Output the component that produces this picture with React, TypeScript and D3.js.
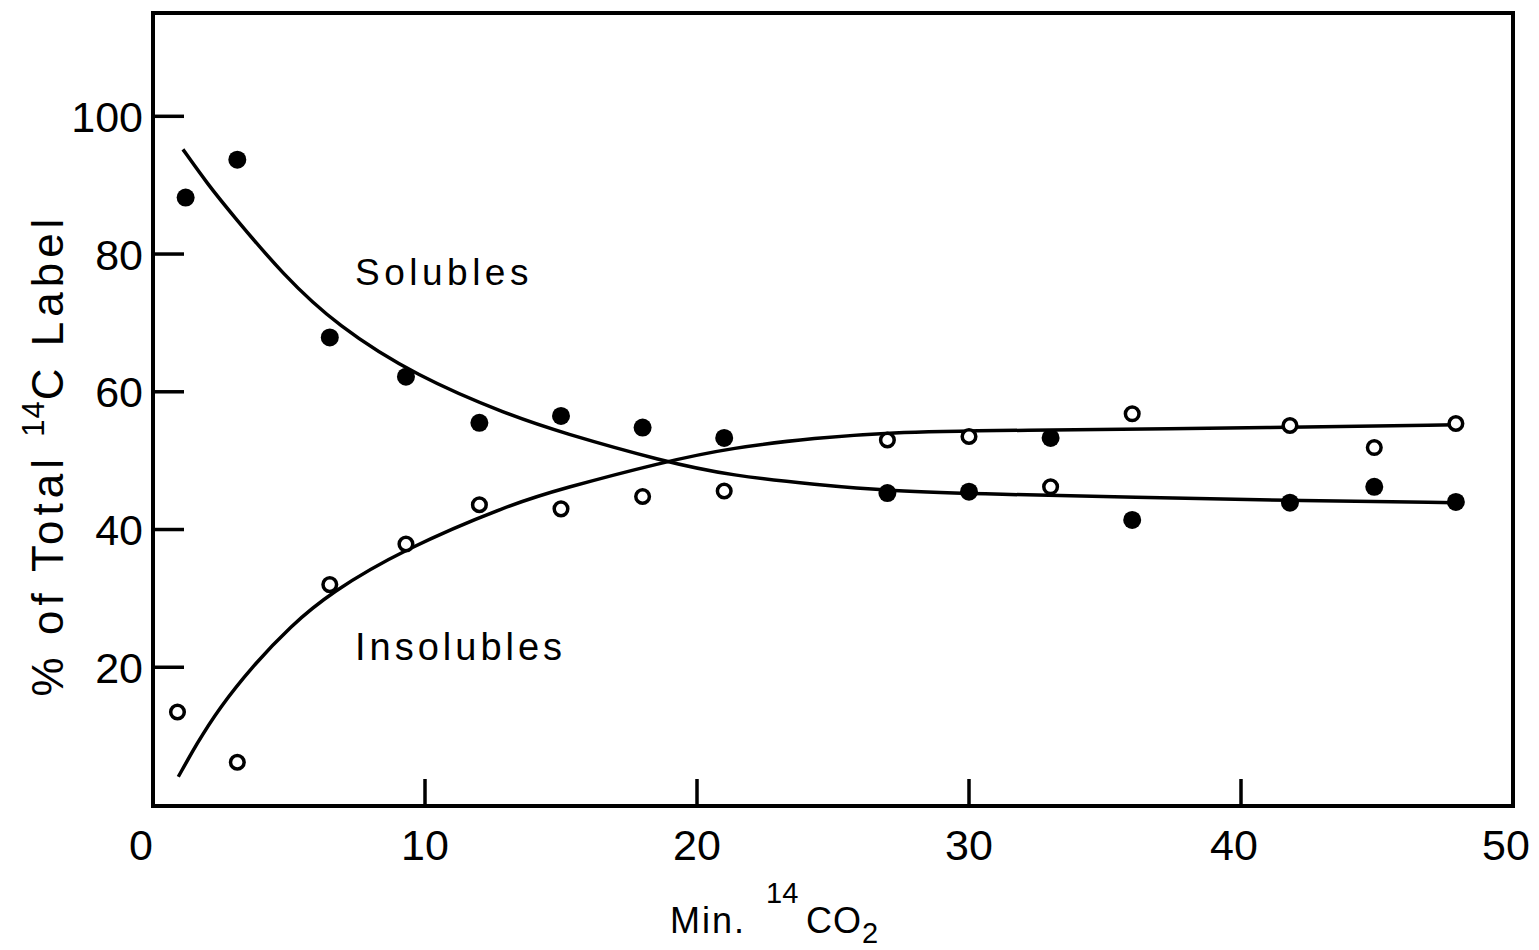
import React from "react";
import * as d3 from "d3";

// Measured points: [minutes, % of total 14C label]
const solublesX = [1.2, 3.1, 6.5, 9.3, 12.0, 15.0, 18.0, 21.0, 27.0, 30.0, 33.0, 36.0, 41.8, 44.9, 47.9];
const solublesY = [88.2, 93.7, 67.9, 62.2, 55.5, 56.5, 54.8, 53.3, 45.3, 45.5, 53.3, 41.4, 43.9, 46.2, 44.0];

const insolublesX = [0.9, 3.1, 6.5, 9.3, 12.0, 15.0, 18.0, 21.0, 27.0, 30.0, 33.0, 36.0, 41.8, 44.9, 47.9];
const insolublesY = [13.5, 6.2, 32.0, 37.9, 43.6, 43.0, 44.8, 45.6, 53.0, 53.5, 46.2, 56.8, 55.1, 51.9, 55.4];

// Hand-drawn fitted curves
const solublesCurveX = [1.1, 2.0, 2.94, 4.78, 6.76, 9.71, 13.1, 15.0, 18.75, 21.3, 24.4, 27.0, 31.1, 36.0, 41.7, 47.9];
const solublesCurveY = [95.2, 90.2, 85.6, 77.0, 69.6, 62.2, 56.6, 54.1, 49.9, 47.8, 46.5, 45.6, 45.1, 44.7, 44.2, 43.9];

const insolublesCurveX = [0.93, 1.61, 2.4, 3.69, 5.04, 6.51, 9.2, 13.1, 15.0, 18.75, 21.3, 24.4, 27.0, 31.1, 41.7, 47.9];
const insolublesCurveY = [4.1, 8.9, 13.9, 20.3, 25.9, 30.8, 37.1, 43.6, 45.9, 49.8, 51.9, 53.3, 54.1, 54.4, 54.8, 55.2];

const xTicks = [0, 10, 20, 30, 40, 50];
const yTicks = [20, 40, 60, 80, 100];

const FONT = "'Liberation Sans', Arial, sans-serif";

export default function App() {
  const W = 1539;
  const H = 950;
  const left = 153, right = 1513, top = 13, bottom = 806;
  const x = d3.scaleLinear().domain([0, 50]).range([left, right]);
  const y = d3.scaleLinear().domain([0, 115]).range([805, top]);

  const line = d3
    .line<[number, number]>()
    .x((d) => x(d[0]))
    .y((d) => y(d[1]))
    .curve(d3.curveBasis);

  const sCurve = solublesCurveX.map((v, i) => [v, solublesCurveY[i]] as [number, number]);
  const iCurve = insolublesCurveX.map((v, i) => [v, insolublesCurveY[i]] as [number, number]);

  return (
    <svg width={W} height={H} style={{ display: "block", position: "absolute", left: 0, top: 0, background: "#fff" }}>
      <rect x={0} y={0} width={W} height={H} fill="#fff" />
      {/* frame */}
      <rect
        x={left}
        y={top}
        width={right - left}
        height={bottom - top}
        fill="none"
        stroke="#000"
        strokeWidth={4}
      />
      {/* y ticks */}
      {yTicks.map((t) => (
        <g key={"y" + t}>
          <line x1={left} x2={left + 31} y1={y(t)} y2={y(t)} stroke="#000" strokeWidth={3.5} />
          <text
            x={143}
            y={y(t)}
            dy="0.36em"
            textAnchor="end"
            fontFamily={FONT}
            fontSize={43}
            fill="#000"
          >
            {t}
          </text>
        </g>
      ))}
      {/* x ticks */}
      {xTicks.map((t) => (
        <g key={"x" + t}>
          {t > 0 && t < 50 && (
            <line x1={x(t)} x2={x(t)} y1={bottom} y2={bottom - 27} stroke="#000" strokeWidth={3.5} />
          )}
          <text
            x={x(t) + (t === 0 ? -12 : t >= 40 ? -7 : 0)}
            y={860}
            textAnchor="middle"
            fontFamily={FONT}
            fontSize={43}
            fill="#000"
          >
            {t}
          </text>
        </g>
      ))}
      {/* curves */}
      <path d={line(sCurve) || ""} fill="none" stroke="#000" strokeWidth={3.5} />
      <path d={line(iCurve) || ""} fill="none" stroke="#000" strokeWidth={3.5} />
      {/* points */}
      {solublesX.map((v, i) => (
        <circle key={"s" + i} cx={x(v)} cy={y(solublesY[i])} r={9} fill="#000" />
      ))}
      {insolublesX.map((v, i) => (
        <circle
          key={"i" + i}
          cx={x(v)}
          cy={y(insolublesY[i])}
          r={6.8}
          fill="#fff"
          stroke="#000"
          strokeWidth={3.5}
        />
      ))}
      {/* series labels */}
      <text x={355} y={285} fontFamily={FONT} fontSize={37} letterSpacing={4.5} fill="#000">
        Solubles
      </text>
      <text x={355} y={660} fontFamily={FONT} fontSize={38} letterSpacing={4} fill="#000">
        Insolubles
      </text>
      {/* x title */}
      <text fontFamily={FONT} fill="#000">
        <tspan x={670} y={933} fontSize={36} letterSpacing={2}>Min.</tspan>
        <tspan x={766} y={903} fontSize={29}>14</tspan>
        <tspan x={806} y={933} fontSize={36} letterSpacing={1}>CO</tspan>
        <tspan x={862} y={943} fontSize={29}>2</tspan>
      </text>
      {/* y title */}
      <g transform="translate(63,455) rotate(-90)">
        <text fontFamily={FONT} fill="#000" textAnchor="middle">
          <tspan fontSize={44} letterSpacing={5}>% of Total </tspan>
          <tspan fontSize={31} dy={-19} letterSpacing={1}>14</tspan>
          <tspan fontSize={44} dy={19} letterSpacing={5}>C Label</tspan>
        </text>
      </g>
    </svg>
  );
}
